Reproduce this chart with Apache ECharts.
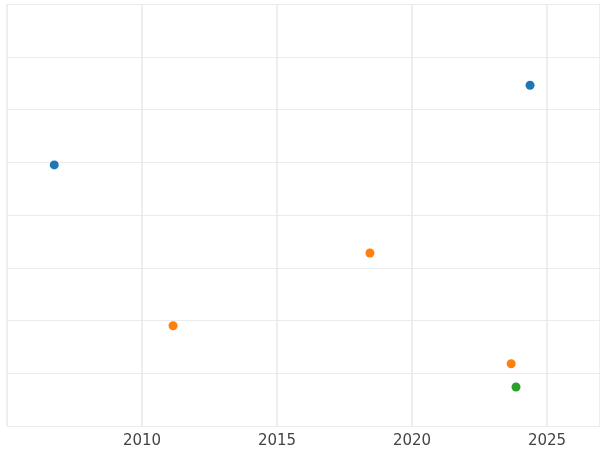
<!DOCTYPE html>
<html><head><meta charset="utf-8">
<script src="https://cdn.jsdelivr.net/npm/echarts@6/dist/echarts.min.js"></script>
<style>html,body{margin:0;padding:0;background:#fff}#c{width:600px;height:450px}</style>
</head><body><div id="c"></div>
<script>
const blueX=[2006.75,2024.37], blueY=[4.95,6.46];
const orangeX=[2011.15,2018.44,2023.67], orangeY=[1.90,3.28,1.18];
const greenX=[2023.85], greenY=[0.74];
const pts=(xs,ys)=>xs.map((x,i)=>[x,ys[i]]);
const chart=echarts.init(document.getElementById('c'));
chart.setOption({
  animation:false,
  grid:{left:7,right:0,top:4,bottom:24,containLabel:false,outerBoundsMode:'none'},
  xAxis:{type:'value',min:2005,max:2026.96,interval:5,
    axisLine:{show:false},axisTick:{show:false},
    axisLabel:{color:'#444',fontSize:15,fontFamily:'DejaVu Sans',margin:8,showMaxLabel:false,
      formatter:v=>(v%5!==0||v===2005)?'':String(v)},
    splitLine:{lineStyle:{color:'#e8e8e8',width:1.5}}},
  yAxis:{type:'value',min:0,max:8,interval:1,
    axisLine:{show:false},axisTick:{show:false},axisLabel:{show:false},
    splitLine:{lineStyle:{color:'#ebebeb',width:1.2}}},
  series:[
    {type:'scatter',data:pts(blueX,blueY),symbolSize:9,itemStyle:{color:'#1f77b4',opacity:1}},
    {type:'scatter',data:pts(orangeX,orangeY),symbolSize:9,itemStyle:{color:'#ff7f0e',opacity:1}},
    {type:'scatter',data:pts(greenX,greenY),symbolSize:9,itemStyle:{color:'#2ca02c',opacity:1}}
  ]
});
</script></body></html>
